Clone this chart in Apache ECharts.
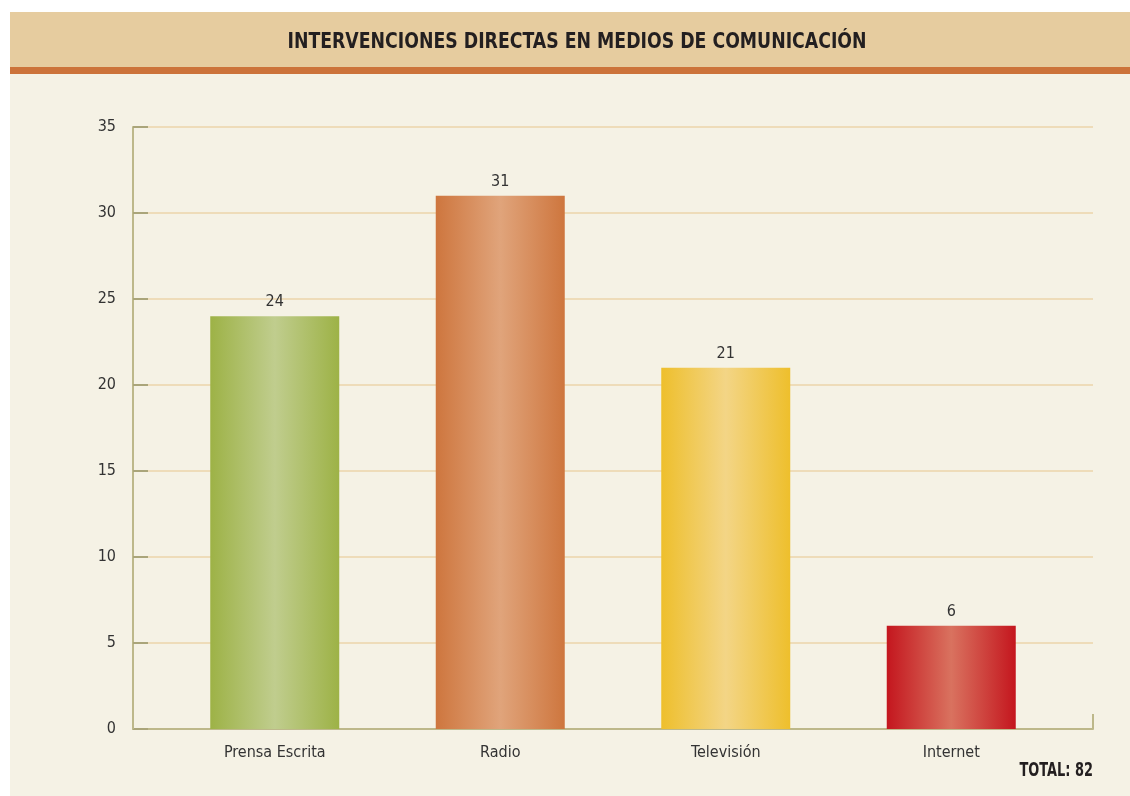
<!DOCTYPE html>
<html>
<head>
<meta charset="utf-8">
<script src="https://cdn.jsdelivr.net/npm/echarts@6/dist/echarts.min.js"></script>
<style>
  html, body { margin: 0; padding: 0; background: #ffffff; }
  #chart { width: 1130px; height: 796px; }
</style>
</head>
<body>
<div id="chart"></div>
<script>
// Media appearances by channel
const categories = ['Prensa Escrita', 'Radio', 'Televisión', 'Internet'];
const values = [24, 31, 21, 6];
const totalLabel = 'TOTAL: 82';
const chartTitle = 'INTERVENCIONES DIRECTAS EN MEDIOS DE COMUNICACIÓN';

// Edge / centre colours of each bar's horizontal sheen
const barEdge = ['#9db246', '#ce763e', '#eebf2c', '#c4161e'];
const barMid = ['#c0cd8e', '#e0a47b', '#f3d586', '#d9725f'];

const FONT = '"Liberation Sans Narrow", "DejaVu Sans Condensed", "Liberation Sans", sans-serif';

function sheen(edge, mid) {
  return new echarts.graphic.LinearGradient(0, 0, 1, 0, [
    { offset: 0, color: edge },
    { offset: 0.5, color: mid },
    { offset: 1, color: edge }
  ]);
}

const chart = echarts.init(document.getElementById('chart'), null, { renderer: 'canvas' });

const axisColor = '#bdb88a';
const textColor = '#333333';

chart.setOption({
  backgroundColor: '#ffffff',
  animation: false,
  graphic: [
    { type: 'rect', z: -10, silent: true, shape: { x: 10, y: 12, width: 1120, height: 784 }, style: { fill: '#f5f2e5' } },
    { type: 'rect', z: -9, silent: true, shape: { x: 10, y: 12, width: 1120, height: 55 }, style: { fill: '#e6cc9f' } },
    { type: 'rect', z: -9, silent: true, shape: { x: 10, y: 67, width: 1120, height: 7 }, style: { fill: '#cc733a' } },
    {
      // header title, narrowed to a condensed look
      type: 'text', silent: true, x: 577, y: 42, scaleX: 0.875,
      style: {
        text: chartTitle, align: 'center', verticalAlign: 'middle',
        fontFamily: FONT, fontSize: 22, fontWeight: 'bold', fill: '#231f20'
      }
    },
    {
      type: 'text', silent: true, x: 1093, y: 771, scaleX: 0.72,
      style: {
        text: totalLabel, align: 'right', verticalAlign: 'middle',
        fontFamily: FONT, fontSize: 20, fontWeight: 'bold', fill: '#231f20'
      }
    }
  ],
  grid: [
    { left: 133, right: 37, top: 127, bottom: 67 },
    { left: 162, right: 66, top: 127, bottom: 67 }
  ],
  xAxis: [
    {
      gridIndex: 0, type: 'category', data: [''],
      axisLine: { show: true, lineStyle: { color: axisColor, width: 2 } },
      axisTick: { show: true, inside: true, length: 15, lineStyle: { color: axisColor, width: 2 } },
      axisLabel: { show: false },
      splitLine: { show: false }
    },
    {
      gridIndex: 1, type: 'category', data: categories,
      axisLine: { show: false }, axisTick: { show: false },
      axisLabel: { margin: 16, fontFamily: FONT, fontSize: 16, color: textColor }
    }
  ],
  yAxis: [
    {
      gridIndex: 0, type: 'value', min: 0, max: 35, interval: 5,
      axisLine: { show: true, lineStyle: { color: axisColor, width: 2 } },
      axisTick: { show: true, inside: true, length: 15, lineStyle: { color: '#aaa57a', width: 2 } },
      axisLabel: { margin: 17, fontFamily: FONT, fontSize: 16, color: textColor },
      splitLine: { show: true, lineStyle: { color: '#eedcb9', width: 2 } }
    },
    {
      gridIndex: 1, type: 'value', min: 0, max: 35, interval: 5, show: false,
      splitLine: { show: false }
    }
  ],
  series: [
    {
      type: 'bar', xAxisIndex: 1, yAxisIndex: 1,
      barWidth: 129,
      data: values.map((v, i) => ({ value: v, itemStyle: { color: sheen(barEdge[i], barMid[i]) } })),
      label: {
        show: true, position: 'top', distance: 6,
        fontFamily: FONT, fontSize: 16, color: textColor
      }
    }
  ]
});
</script>
</body>
</html>
